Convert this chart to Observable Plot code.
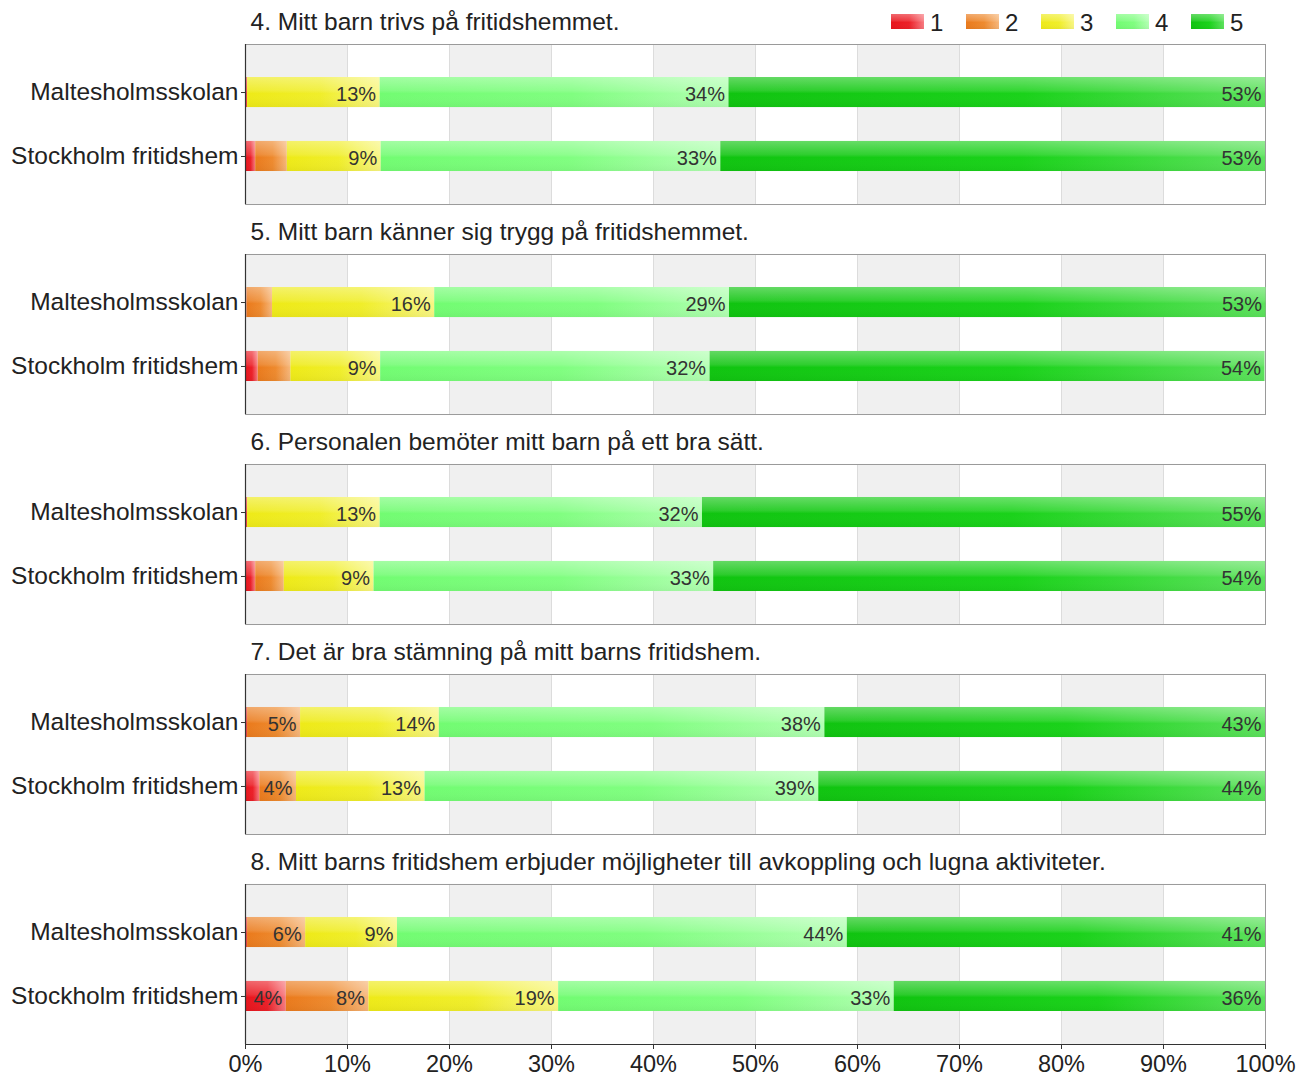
<!DOCTYPE html>
<html>
<head>
<meta charset="utf-8">
<script src="https://cdn.jsdelivr.net/npm/d3@7"></script>
<script src="https://cdn.jsdelivr.net/npm/@observablehq/plot@0.6"></script>
<style>
  html, body { margin: 0; padding: 0; background: #fff; }
  #wrap { position: relative; width: 1296px; height: 1080px; font-family: "Liberation Sans", Arial, sans-serif; }
  #legend { position: absolute; left: 880px; top: 4px; }
</style>
</head>
<body>
<svg width="0" height="0" style="position:absolute">
  <defs>
    <linearGradient id="g1" x1="0" x2="1" y1="0" y2="0">
      <stop offset="0" stop-color="#e8141c"/><stop offset="0.55" stop-color="#ec2028"/><stop offset="1" stop-color="#f87a80"/>
    </linearGradient>
    <linearGradient id="g2" x1="0" x2="1" y1="0" y2="0">
      <stop offset="0" stop-color="#ea7a1c"/><stop offset="0.55" stop-color="#ee8a2e"/><stop offset="1" stop-color="#f6b67a"/>
    </linearGradient>
    <linearGradient id="g3" x1="0" x2="1" y1="0" y2="0">
      <stop offset="0" stop-color="#eeea18"/><stop offset="0.55" stop-color="#f0ee2a"/><stop offset="1" stop-color="#f8f682"/>
    </linearGradient>
    <linearGradient id="g4" x1="0" x2="1" y1="0" y2="0">
      <stop offset="0" stop-color="#72fc72"/><stop offset="0.55" stop-color="#80fe80"/><stop offset="1" stop-color="#b2ffb2"/>
    </linearGradient>
    <linearGradient id="g5" x1="0" x2="1" y1="0" y2="0">
      <stop offset="0" stop-color="#10c410"/><stop offset="0.55" stop-color="#1ad21a"/><stop offset="1" stop-color="#5ce25c"/>
    </linearGradient>
    <linearGradient id="gloss" x1="0" x2="0" y1="0" y2="1">
      <stop offset="0" stop-color="#ffffff" stop-opacity="0.35"/>
      <stop offset="0.45" stop-color="#ffffff" stop-opacity="0.12"/>
      <stop offset="0.55" stop-color="#ffffff" stop-opacity="0"/>
      <stop offset="1" stop-color="#000000" stop-opacity="0.04"/>
    </linearGradient>
  </defs>
</svg>
<div id="wrap"><div id="legend"></div></div>
<script>
// ---- data ----
const questions = [
  "4. Mitt barn trivs på fritidshemmet.",
  "5. Mitt barn känner sig trygg på fritidshemmet.",
  "6. Personalen bemöter mitt barn på ett bra sätt.",
  "7. Det är bra stämning på mitt barns fritidshem.",
  "8. Mitt barns fritidshem erbjuder möjligheter till avkoppling och lugna aktiviteter."
];
const schools = ["Maltesholmsskolan", "Stockholm fritidshem"];
const grades = ["1", "2", "3", "4", "5"];
// percent per grade 1..5, one row per question
const maltesholmsskolan = [
  [0.2, 0.0, 13.0, 34.2, 52.6],
  [0.15, 2.5, 15.9, 28.9, 52.6],
  [0.2, 0.0, 13.0, 31.6, 55.2],
  [0.2, 5.2, 13.6, 37.8, 43.2],
  [0.2, 5.7, 9.0, 44.1, 41.0]
];
const stockholmFritidshem = [
  [1.0, 3.1, 9.2, 33.3, 53.4],
  [1.25, 3.2, 8.8, 32.3, 54.4],
  [1.0, 2.8, 8.8, 33.3, 54.1],
  [1.4, 3.6, 12.6, 38.6, 43.8],
  [4.0, 8.1, 18.6, 32.9, 36.4]
];
const xTicks = [0, 10, 20, 30, 40, 50, 60, 70, 80, 90, 100];
const shadedBands = [0, 20, 40, 60, 80];
const gridLines = [10, 20, 30, 40, 50, 60, 70, 80, 90];

const rows = [];
questions.forEach((q, qi) => {
  [maltesholmsskolan, stockholmFritidshem].forEach((series, si) => {
    series[qi].forEach((v, gi) => {
      rows.push({q, school: schools[si], grade: grades[gi], value: v});
    });
  });
});

const font = "Liberation Sans, Arial, Helvetica, sans-serif";

const chart = Plot.plot({
  width: 1296,
  height: 1080,
  marginTop: 44,
  marginBottom: 36,
  marginLeft: 245,
  marginRight: 31,
  style: {fontFamily: font, fontSize: "22px", color: "#222", background: "white"},
  x: {domain: [0, 100], axis: null, label: null},
  y: {domain: schools, paddingInner: 0.53, paddingOuter: 0.516, round: false, axis: null, label: null},
  fy: {domain: questions, paddingInner: 0.238, paddingOuter: 0, round: false, axis: null, label: null},
  color: {type: "identity"},
  marks: [
    Plot.rectX(shadedBands, {x1: d => d, x2: d => d + 10, fill: "#f0f0f0"}),
    Plot.ruleX(gridLines, {stroke: "#dcdcdc", strokeWidth: 1}),
    Plot.frame({stroke: "#9a9a9a"}),
    Plot.barX(rows, Plot.stackX({x: "value", y: "school", fy: "q", fill: d => `url(#g${d.grade})`})),
    Plot.barX(rows, Plot.stackX({x: "value", y: "school", fy: "q", fill: () => "url(#gloss)"})),
    Plot.text(rows, Plot.stackX2({
      x: "value", y: "school", fy: "q",
      text: d => d.value >= 3.5 ? Math.round(d.value) + "%" : "",
      textAnchor: "end", dx: -4, dy: 2, fontSize: 20, fill: "#333"
    })),
    Plot.ruleX([0], {stroke: "#333", strokeWidth: 1.2}),
    Plot.axisY({tickSize: 4, tickPadding: 3, fontSize: 24.5, color: "#222", stroke: "#333", label: null}),
    Plot.axisX({ticks: xTicks, tickFormat: d => d + "%", tickSize: 5, tickPadding: 6, fontSize: 23.5, color: "#222", stroke: "#333", label: null}),
    Plot.frame({anchor: "bottom", stroke: "#333", fy: () => questions[questions.length - 1]}),
    Plot.text(questions, {fy: d => d, text: d => d, frameAnchor: "top-left", dx: 5, dy: -22, lineAnchor: "middle", textAnchor: "start", fontSize: 24.5, fill: "#222"})
  ]
});
document.getElementById("wrap").appendChild(chart);

// ---- legend ----
const lg = d3.select("#legend").append("svg").attr("width", 400).attr("height", 36)
  .style("font-family", font);
const item = lg.selectAll("g").data(grades).join("g")
  .attr("transform", (d, i) => `translate(${11 + i * 75},0)`);
item.append("rect").attr("x", 0).attr("y", 10).attr("width", 33).attr("height", 15)
  .attr("fill", d => `url(#g${d})`);
item.append("rect").attr("x", 0).attr("y", 10).attr("width", 33).attr("height", 15)
  .attr("fill", "url(#gloss)");
item.append("text").attr("x", 39).attr("y", 18).attr("dy", "0.36em")
  .attr("font-size", 24).attr("fill", "#222").text(d => d);
</script>
</body>
</html>
